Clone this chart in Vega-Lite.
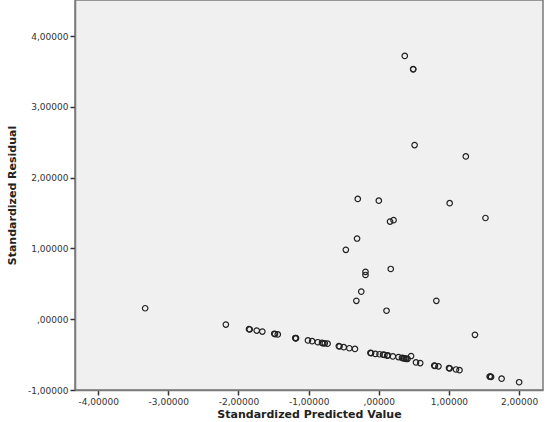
{
  "$schema": "https://vega.github.io/schema/vega-lite/v6.json",
  "width": 468,
  "height": 390,
  "autosize": {"type": "none"},
  "padding": {"left": 75, "top": 0, "right": 4, "bottom": 32},
  "background": "white",
  "config": {
    "view": {"fill": "#f0f0f0", "stroke": "#7a7a7a", "strokeWidth": 1.5},
    "axis": {"grid": false, "labelFont": "DejaVu Sans", "labelFontSize": 9, "labelColor": "#333333", "titleFont": "DejaVu Sans", "titleFontSize": 11, "titleFontWeight": "bold", "titleColor": "#222222", "tickColor": "#333333", "tickSize": 5, "tickWidth": 1.5, "domainColor": "#7a7a7a", "domainWidth": 1.5, "labelPadding": 2}
  },
  "data": {"values": [
    {"pred": -3.33, "resid": 0.155},
    {"pred": -2.18, "resid": -0.076},
    {"pred": -1.85, "resid": -0.14},
    {"pred": -1.84, "resid": -0.145},
    {"pred": -1.74, "resid": -0.16},
    {"pred": -1.66, "resid": -0.175},
    {"pred": -1.49, "resid": -0.205},
    {"pred": -1.48, "resid": -0.21},
    {"pred": -1.44, "resid": -0.215},
    {"pred": -1.19, "resid": -0.265},
    {"pred": -1.185, "resid": -0.27},
    {"pred": -1.18, "resid": -0.268},
    {"pred": -1.01, "resid": -0.30},
    {"pred": -0.95, "resid": -0.31},
    {"pred": -0.87, "resid": -0.325},
    {"pred": -0.81, "resid": -0.335},
    {"pred": -0.79, "resid": -0.34},
    {"pred": -0.77, "resid": -0.34},
    {"pred": -0.73, "resid": -0.345},
    {"pred": -0.57, "resid": -0.38},
    {"pred": -0.56, "resid": -0.385},
    {"pred": -0.50, "resid": -0.395},
    {"pred": -0.42, "resid": -0.41},
    {"pred": -0.34, "resid": -0.42},
    {"pred": -0.12, "resid": -0.475},
    {"pred": -0.11, "resid": -0.48},
    {"pred": -0.05, "resid": -0.49},
    {"pred": 0.01, "resid": -0.495},
    {"pred": 0.06, "resid": -0.50},
    {"pred": 0.08, "resid": -0.505},
    {"pred": 0.13, "resid": -0.51},
    {"pred": 0.12, "resid": -0.515},
    {"pred": 0.20, "resid": -0.525},
    {"pred": 0.28, "resid": -0.535},
    {"pred": 0.33, "resid": -0.545},
    {"pred": 0.35, "resid": -0.55},
    {"pred": 0.36, "resid": -0.555},
    {"pred": 0.38, "resid": -0.555},
    {"pred": 0.39, "resid": -0.56},
    {"pred": 0.41, "resid": -0.56},
    {"pred": 0.46, "resid": -0.52},
    {"pred": 0.53, "resid": -0.61},
    {"pred": 0.59, "resid": -0.62},
    {"pred": 0.79, "resid": -0.655},
    {"pred": 0.80, "resid": -0.66},
    {"pred": 0.85, "resid": -0.665},
    {"pred": 1.00, "resid": -0.69},
    {"pred": 1.01, "resid": -0.695},
    {"pred": 1.10, "resid": -0.71},
    {"pred": 1.15, "resid": -0.72},
    {"pred": 1.58, "resid": -0.81},
    {"pred": 1.59, "resid": -0.81},
    {"pred": 1.60, "resid": -0.815},
    {"pred": 1.75, "resid": -0.84},
    {"pred": 2.00, "resid": -0.89},
    {"pred": 0.37, "resid": 3.72},
    {"pred": 0.49, "resid": 3.53},
    {"pred": 0.49, "resid": 3.535},
    {"pred": 0.51, "resid": 2.46},
    {"pred": 1.24, "resid": 2.30},
    {"pred": -0.30, "resid": 1.70},
    {"pred": 0.00, "resid": 1.675},
    {"pred": 1.01, "resid": 1.64},
    {"pred": 0.16, "resid": 1.38},
    {"pred": 0.21, "resid": 1.40},
    {"pred": 1.52, "resid": 1.43},
    {"pred": -0.31, "resid": 1.14},
    {"pred": -0.47, "resid": 0.98},
    {"pred": -0.19, "resid": 0.67},
    {"pred": -0.19, "resid": 0.625},
    {"pred": 0.17, "resid": 0.71},
    {"pred": -0.25, "resid": 0.39},
    {"pred": -0.32, "resid": 0.26},
    {"pred": 0.11, "resid": 0.12},
    {"pred": 0.82, "resid": 0.26},
    {"pred": 1.37, "resid": -0.22}
  ]},
  "mark": {"type": "point", "shape": "circle", "filled": false, "stroke": "#222222", "strokeWidth": 1.2, "size": 30, "opacity": 1},
  "encoding": {
    "x": {"field": "pred", "type": "quantitative", "title": "Standardized Predicted Value",
      "scale": {"domain": [-4.33, 2.34], "nice": false, "zero": false},
      "axis": {"values": [-4, -3, -2, -1, 0, 1, 2], "titlePadding": 2,
        "labelExpr": "datum.value == 0 ? ',00000' : (datum.value < 0 ? '-' : '') + replace(format(abs(datum.value), '.5f'), '.', ',')"}},
    "y": {"field": "resid", "type": "quantitative", "title": "Standardized Residual",
      "scale": {"domain": [-1.0, 4.51], "nice": false, "zero": false},
      "axis": {"values": [-1, 0, 1, 2, 3, 4], "titlePadding": 10,
        "labelExpr": "datum.value == 0 ? ',00000' : (datum.value < 0 ? '-' : '') + replace(format(abs(datum.value), '.5f'), '.', ',')"}}
  }
}
